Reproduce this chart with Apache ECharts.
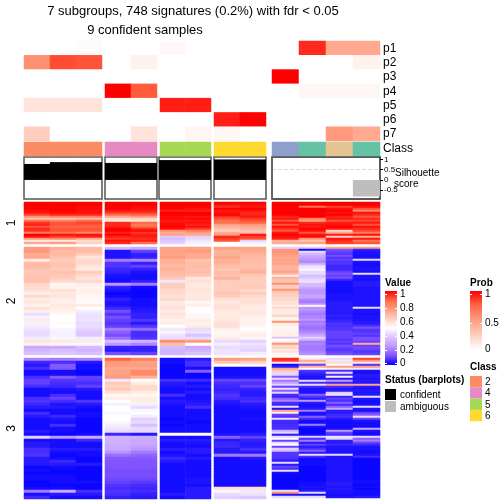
<!DOCTYPE html>
<html>
<head>
<meta charset="utf-8">
<style>html,body{margin:0;padding:0;background:#fff}#c{width:504px;height:504px}</style>
<script src="https://cdn.jsdelivr.net/npm/echarts@6/dist/echarts.min.js"></script>
</head>
<body>
<div id="c"></div>
<script>
const FONT = 'Liberation Sans';
const colNames = ['c0','c1','c2','c3','c4','c5','c6','c7','c8','c9','c10','c11','c12'];
const probNames = ['p1','p2','p3','p4','p5','p6','p7'];
const p1 = [0,0,.02,0,0,.04,0,0,0,0,.9,.44,.44];
const p2 = [.56,.82,.8,0,.07,0,0,0,0,0,0,0,.07];
const p3 = [0,0,0,0,0,0,0,0,0,1,0,0,0];
const p4 = [0,0,0,1,.78,0,0,0,0,0,.04,.04,.04];
const p5 = [.15,.15,.15,0,0,.93,.93,0,0,0,0,0,0];
const p6 = [0,0,0,0,0,0,0,.93,1,0,0,0,0];
const p7 = [.26,0,0,0,.15,0,.05,.04,0,0,0,.52,.44];
const classColors = ['#FC8D62','#FC8D62','#FC8D62','#E78AC3','#E78AC3','#A6D854','#A6D854','#FFD92F','#FFD92F','#8DA0CB','#66C2A5','#E5C494','#66C2A5'];
const silhouette = [.78,.87,.87,.83,.83,.97,.97,1,1,0,0,0,-.81];
const silStatus = [1,1,1,1,1,1,1,1,1,1,1,1,0];

const s1c0 = [1,1,1,1,.98,.97,.92,.78,.65,.86,.94,.96,.9,.95,.94,.82,1,.97,.76,.55,.72];
const s1c1 = [1,1,1,1,1,.99,.95,.82,.65,.82,.9,.9,.88,.9,.9,.85,.98,.93,.8,.55,.75];
const s1c2 = [1,1,.99,.99,.98,.98,.95,.82,.68,.86,.92,.9,.88,.9,.9,.8,.98,.96,.72,.6,.62];
const s1c3 = [1,1,1,1,.97,.93,.86,.72,.6,.55,.95,.95,.96,1,1,.96,1,.96,.93,.98,.95];
const s1c4 = [1,1,.99,.98,.97,.93,.88,.76,.62,.58,.88,.84,.86,.95,.99,.93,.97,.97,.94,.97,.86];
const s1c5 = [1,1,1,1,.96,1,1,.98,.99,.97,.98,.99,1,.98,.78,.72,.74,.38,.36,.38,.4];
const s1c6 = [1,1,1,.98,.96,1,1,.97,.99,.97,.98,.96,.98,.93,.82,.75,.72,.4,.42,.45,.47];
const s1c7 = [1,.98,.94,1,.97,.98,1,.94,.9,.86,.86,.74,.7,.66,.62,.72,.76,.96,.93,.9,.5];
const s1c8 = [1,.99,.97,1,.98,.95,.96,.97,.93,.9,.88,.76,.72,.7,.65,.66,.98,.93,.9,.4,.47];
const s1c9 = [1,1,1,1,1,1,1,.96,.97,.9,.98,.9,.98,.94,.9,.97,1,.98,.96,.7,.72];
const s1c10 = [1,1,.85,1,1,1,1,1,.8,.75,.95,.98,.97,1,.98,.9,.98,.99,.76,.65,.74];
const s1c11 = [1,1,.92,.98,1,.98,1,.96,.97,.9,.97,.98,1,.97,.62,.72,.97,.62,.98,.95,.92];
const s1c12 = [1,1,.98,.9,.8,.98,.95,.9,.95,.92,.97,.9,.98,.95,.92,.82,.98,.72,.97,.85,.9];

const s2c0 = [.75,.77,.72,.73,.55,.68,.68,.66,.64,.65,.65,.66,.61,.6,.58,.54,.6,.55,.56,.53,.58,.54,.43,.47,.55,.47,.46,.44,.42,.42,.46,.57,.54,.3,.33,.36];
const s2c1 = [.7,.68,.68,.66,.63,.65,.65,.63,.66,.64,.63,.6,.52,.53,.58,.56,.57,.55,.54,.56,.55,.54,.51,.5,.5,.51,.5,.48,.47,.47,.48,.56,.52,.3,.36,.38];
const s2c2 = [.68,.68,.63,.57,.6,.6,.57,.55,.63,.6,.57,.6,.55,.53,.54,.54,.52,.52,.51,.55,.5,.46,.44,.43,.44,.42,.43,.4,.38,.38,.46,.55,.48,.35,.33,.36];
const s2c3 = [.35,.03,.03,.03,.2,.08,.08,.06,.05,.03,.02,.02,.25,.05,.03,.01,.02,.05,.03,.03,.06,.12,.08,.12,.1,.08,.1,.2,.15,.12,.18,.35,.26,.05,.04,.12];
const s2c4 = [.3,.1,.05,.05,.22,.05,.1,.05,.03,.02,.02,.05,.2,.02,.01,.01,.01,.02,.02,.02,.03,.04,.05,.05,.08,.04,.08,.17,.07,.07,.08,.33,.22,.05,.05,.1];
const s2c5 = [.74,.74,.74,.76,.7,.7,.68,.7,.68,.67,.64,.45,.63,.63,.6,.6,.58,.6,.55,.56,.58,.55,.57,.56,.53,.55,.5,.45,.48,.44,.42,.78,.66,.35,.33,.33];
const s2c6 = [.74,.76,.72,.72,.65,.67,.67,.66,.67,.65,.56,.58,.56,.56,.57,.56,.56,.56,.52,.54,.5,.5,.52,.52,.55,.53,.55,.42,.44,.37,.42,.76,.5,.3,.33,.37];
const s2c7 = [.74,.7,.7,.74,.7,.7,.67,.65,.67,.66,.7,.63,.63,.63,.63,.65,.63,.58,.56,.58,.58,.56,.55,.56,.56,.58,.58,.54,.52,.53,.55,.42,.46,.42,.44,.44];
const s2c8 = [.74,.72,.7,.68,.68,.67,.66,.68,.7,.65,.63,.63,.63,.64,.6,.63,.6,.58,.58,.56,.55,.56,.56,.54,.52,.54,.52,.5,.53,.55,.52,.4,.44,.42,.4,.46];
const s2c9 = [.4,.76,.78,.76,.74,.72,.74,.72,.74,.7,.68,.7,.74,.68,.55,.7,.66,.65,.78,.63,.63,.77,.65,.63,.63,.6,.6,.58,.58,.55,.6,.56,.55,.56,.62,.54,.52,.78,.55,.54,.52,.53,.54,.54,.55,.38,.5,.55,.78,.6,.62,.55,.58,.52];
const s2c10 = [.4,.02,.42,.35,.3,.28,.25,.22,.3,.42,.45,.48,.42,.42,.35,.38,.42,.44,.35,.35,.3,.25,.25,.25,.3,.28,.22,.2,.24,.52,.25,.25,.22,.2,.22,.22,.25,.2,.22,.2,.18,.2,.22,.25,.3,.4,.32,.2,.22,.2,.2,.2,.22,.24];
const s2c11 = [.72,.12,.1,.08,.12,.08,.1,.08,.08,.06,.06,.06,.1,.12,.1,.12,.06,.02,.02,.02,.02,.02,.02,.03,.03,.03,.03,.04,.04,.04,.04,.04,.04,.04,.05,.04,.05,.06,.08,.07,.08,.08,.1,.1,.1,.1,.08,.1,.08,.12,.1,.08,.1,.12];
const s2c12 = [.75,.05,.03,.03,.02,.03,.42,.03,.02,.02,.03,.03,.02,.42,.03,.03,.02,.04,.04,.04,.03,.03,.03,.03,.03,.03,.03,.03,.03,.03,.42,.03,.03,.02,.03,.03,.03,.04,.04,.08,.12,.08,.08,.1,.08,.12,.12,.1,.72,.1,.12,.1,.08,.1];

const s3c0 = [.22,.06,.04,.07,.02,.02,.07,.1,.1,.07,.02,.02,.02,.07,.08,.06,.04,.02,.07,.04,.02,.02,.02,.02,.04,.02,.4,.02,.04,.04,.07,.07,.08,.04,.04,.04,.01,.02,.01,.02,.02,.01,.01,.02,.2,.02,.06];
const s3c1 = [.2,.07,.14,.14,.02,.02,.14,.08,.07,.06,.03,.02,.07,.1,.07,.03,.04,.02,.02,.06,.03,.02,.07,.02,.02,.01,.25,.02,.02,.02,.04,.02,.01,.02,.06,.04,.02,.01,.01,.02,.02,.02,.01,.02,.3,.04,.02];
const s3c2 = [.22,.04,.02,.02,.01,.01,.1,.09,.07,.1,.04,.02,.02,.02,.08,.04,.02,.01,.02,.02,.01,.01,.01,.01,.01,.02,.3,.06,.02,.02,.04,.02,.02,.01,.01,.04,.01,.01,.01,.01,.01,.02,.01,.01,.07,.04,.02];
const s3c3 = [.88,.76,.76,.72,.74,.74,.76,.45,.64,.62,.64,.58,.52,.55,.5,.47,.5,.5,.48,.5,.5,.52,.46,.44,.42,.06,.33,.32,.32,.3,.3,.24,.18,.14,.13,.13,.13,.12,.12,.12,.11,.1,.08,.07,.08,.07,.05];
const s3c4 = [.82,.74,.76,.72,.8,.8,.7,.5,.55,.6,.6,.55,.52,.55,.55,.47,.42,.48,.5,.46,.4,.42,.36,.42,.42,.04,.32,.3,.3,.28,.25,.2,.16,.14,.13,.13,.13,.12,.12,.12,.11,.09,.07,.06,.07,.05,.04];
const s3c5 = [.02,.02,.01,.01,.01,.01,.01,.07,.04,.03,.02,.02,.07,.02,.04,.03,.02,.02,.02,.02,.01,.02,.01,.02,.02,.5,.02,.04,.02,.02,.04,.02,.03,.06,.04,.02,.02,.02,.02,.02,.02,.02,.02,.02,.02,.04,.02];
const s3c6 = [.04,.07,.07,.02,.15,.01,.01,.06,.02,.04,.02,.04,.02,.02,.03,.04,.07,.02,.02,.02,.02,.01,.02,.02,.02,.5,.02,.04,.03,.02,.04,.04,.02,.04,.02,.02,.02,.02,.02,.02,.03,.03,.02,.04,.04,.04,.04];
const s3c7 = [.76,.64,.5,.02,.02,.02,.03,.1,.07,.06,.05,.06,.08,.07,.04,.03,.02,.02,.02,.02,.02,.02,.02,.02,.02,.03,.15,.04,.06,.06,.04,.04,.2,.02,.02,.02,.02,.02,.02,.02,.02,.02,.02,.58,.48,.42,.4];
const s3c8 = [.74,.62,.48,.02,.02,.02,.03,.1,.07,.1,.05,.04,.04,.06,.07,.04,.03,.02,.02,.02,.03,.02,.02,.02,.02,.04,.1,.05,.04,.04,.07,.04,.2,.04,.02,.02,.02,.02,.02,.02,.02,.02,.02,.58,.45,.44,.38];
const s3c9 = [.95,.93,.55,.02,.05,.72,.65,.42,.4,.15,.42,.2,.28,.4,.1,.42,.15,.4,.07,.06,.15,.22,.07,.06,.42,.03,.75,.55,.1,.08,.42,.07,.06,.07,.07,.07,.32,.4,.04,.42,.5,.1,.42,.5,.1,.4,.35,.08,.08,.08,.07,.04,.42,.04,.1,.07,.42,.02,.01,.01,.01,.01,.01,.01,.01,.01,.42,.78,.03,.42];
const s3c10 = [.55,.72,.6,.1,.7,.5,.08,.06,.04,.03,.03,.42,.07,.42,.07,.03,.03,.03,.15,.08,.04,.25,.04,.02,.03,.04,.2,.03,.03,.15,.07,.02,.02,.2,.03,.01,.01,.01,.02,.4,.07,.2,.04,.1,.04,.07,.15,.04,.42,.07,.02,.02,.02,.02,.01,.01,.01,.01,.01,.01,.01,.01,.02,.02,.03,.02,.04,.42,.02,.42];
const s3c11 = [.42,.45,.6,.5,.75,.55,.07,.42,.07,.55,.04,.25,.06,.74,.07,.04,.04,.4,.45,.06,.1,.07,.15,.07,.15,.3,.04,.04,.06,.07,.04,.02,.02,.02,.02,.02,.25,.1,.07,.45,.4,.04,.04,.06,.03,.03,.03,.03,.42,.03,.03,.03,.03,.03,.03,.03,.03,.03,.03,.03,.03,.03,.04,.04,.03,.04,.03,.03,.02,.03];
const s3c12 = [.92,.76,.55,.08,.76,.45,.03,.02,.04,.04,.03,.04,.03,.74,.04,.03,.04,.03,.04,.42,.03,.02,.02,.03,.42,.03,.02,.1,.15,.42,.1,.03,.02,.02,.02,.3,.03,.02,.02,.42,.15,.2,.1,.06,.03,.03,.02,.02,.03,.07,.01,.01,.01,.01,.01,.01,.01,.01,.01,.01,.01,.02,.02,.01,.02,.01,.02,.02,.02,.04];

const valueTicks = [1,.8,.6,.4,.2,0];
const probTicks = [1,.5,0];
const classLegend = ['2','4','5','6'];

const probRows = [p1,p2,p3,p4,p5,p6,p7];
const slice1 = [s1c0,s1c1,s1c2,s1c3,s1c4,s1c5,s1c6,s1c7,s1c8,s1c9,s1c10,s1c11,s1c12];
const slice2 = [s2c0,s2c1,s2c2,s2c3,s2c4,s2c5,s2c6,s2c7,s2c8,s2c9,s2c10,s2c11,s2c12];
const slice3 = [s3c0,s3c1,s3c2,s3c3,s3c4,s3c5,s3c6,s3c7,s3c8,s3c9,s3c10,s3c11,s3c12];

const panels = [
  {left:24,width:78,cols:[0,1,2]},
  {left:105,width:52,cols:[3,4]},
  {left:160,width:51,cols:[5,6],boxLeft:159,boxWidth:52},
  {left:214,width:52,cols:[7,8]},
  {left:272,width:108,cols:[9,10,11,12]}
];
const VALUE_COLORS = ['#0000ff','#7e51ff','#be96ff','#dcc5ff','#ffffff','#ffcfbf','#ff9e81','#ff6947','#ff0000'];
const PROB_COLORS = ['#ffffff','#ffcfbf','#ff9e81','#ff6947','#ff0000'];

const grids=[],xAxes=[],yAxes=[],series=[];
const valueIdx=[],probIdx=[];
function addGrid(p,top,height,gridExtra,yAxis){
  const i=grids.length;
  grids.push(Object.assign({left:p.left,top:top,width:p.width,height:height,show:false,containLabel:false,outerBoundsMode:'none'},gridExtra||{}));
  xAxes.push({gridIndex:i,type:'category',data:p.cols.map(c=>colNames[c]),show:false,boundaryGap:true});
  yAxes.push(Object.assign({gridIndex:i},yAxis));
  return i;
}
const hiddenCat=(names)=>({type:'category',data:names,inverse:true,show:false});
const heat=(g,data)=>({type:'heatmap',xAxisIndex:g,yAxisIndex:g,data:data,silent:true,animation:false,progressive:0,
  emphasis:{disabled:true},itemStyle:{borderWidth:0}});

panels.forEach((p,pi)=>{
  const last=pi===panels.length-1;
  let g=addGrid(p,41,100,null,hiddenCat(probNames));
  const d=[];
  probRows.forEach((row,r)=>p.cols.forEach((c,x)=>d.push([x,r,row[c]])));
  probIdx.push(series.length); series.push(heat(g,d));
  g=addGrid(p,142,14,null,hiddenCat(['Class']));
  series.push(heat(g,p.cols.map((c,x)=>({value:[x,0,1],itemStyle:{color:classColors[c]}}))));
  const silAxis={type:'value',min:-.93,max:1.12,position:'right',splitLine:{show:false},
    axisLine:{show:false},axisTick:{show:last,length:3,inside:false,lineStyle:{color:'#000'},customValues:[1,.5,0,-.5]},
    axisLabel:{show:last,customValues:[1,.5,0,-.5],fontSize:8,margin:4,fontFamily:FONT,color:'#000',formatter:v=>String(v)}};
  const box={show:true,backgroundColor:'#fff',borderColor:last?'#222':'#555',borderWidth:1.5};
  if(p.boxLeft){box.left=p.boxLeft;box.width=p.boxWidth;}
  g=addGrid(p,157,42,box,silAxis);
  series.push({type:'bar',xAxisIndex:g,yAxisIndex:g,barWidth:'101%',barGap:'-100%',animation:false,silent:true,
    data:p.cols.map(c=>({value:silhouette[c],itemStyle:{color:silStatus[c]?'#000':'#BEBEBE'}})),
    markLine:last?{silent:true,symbol:'none',animation:false,label:{show:false},
      lineStyle:{type:'dashed',color:'#dcdcdc',width:1},data:[{yAxis:.5}]}:undefined});
  [[slice1,202,42,'1'],[slice2,247,108,'2'],[slice3,358,last?140:141,'3']].forEach(([cols,top,h,name])=>{
    const n=cols[p.cols[0]].length, names=Array.from({length:n},(_,i)=>'r'+i);
    const yA=hiddenCat(names);
    if(pi===0){
      Object.assign(yA,{show:true,position:'left',axisLine:{show:false},axisTick:{show:false},axisLabel:{show:false},
        name:name,nameLocation:'middle',nameGap:6,nameRotate:90,nameMoveOverlap:false,nameTextStyle:{fontSize:12,fontFamily:FONT,color:'#000'}});
    }
    const sg=addGrid(p,top,h,null,yA);
    const dd=[];
    p.cols.forEach((c,x)=>cols[c].forEach((v,r)=>dd.push([x,r,v])));
    valueIdx.push(series.length); series.push(heat(sg,dd));
  });
});

const g=[];
const txt=(x,y,s,size,bold,align)=>g.push({type:'text',x:x,y:y,silent:true,z:10,style:{text:s,fontFamily:FONT,fontSize:size,fontWeight:bold?'bold':'normal',fill:'#000',textAlign:align||'left',textVerticalAlign:'middle'}});
const rect=(x,y,w,h,fill)=>g.push({type:'rect',silent:true,z:9,shape:{x:x,y:y,width:w,height:h},style:{fill:fill}});
function bar(x,y,w,h,colors,ticks,ys){
  rect(x,y,w,h,{type:'linear',x:0,y:0,x2:0,y2:1,colorStops:colors.slice().reverse().map((c,i)=>({offset:i/(colors.length-1),color:c}))});
  ticks.forEach((t,i)=>{
    txt(x+w+3,ys[i],String(t),10);
    rect(x,ys[i],2,1,'#fff'); rect(x+w-2,ys[i],2,1,'#fff');
  });
}
probNames.forEach((s,i)=>txt(383,[49,63,77,92,106,120,134][i],s,12));
txt(383,149,'Class',12);
txt(385,283,'Value',10,true);
bar(385,291,12,74,VALUE_COLORS,valueTicks,[294,308,322,336,350,363]);
txt(470,283,'Prob',10,true);
bar(470,291,12,59,PROB_COLORS,probTicks,[294,323,349]);
txt(470,367,'Class',10,true);
classLegend.forEach((s,i)=>{
  const col=[classColors[0],classColors[3],classColors[5],classColors[7]][i];
  rect(470,376+i*11.3,12,11.3,col);
  txt(485,382+i*11.4,s,10);
});
txt(385,380,'Status (barplots)',10,true);
rect(385,389,11,11,'#000'); txt(400,395,'confident',10);
rect(385,401,11,11,'#BEBEBE'); txt(400,407,'ambiguous',10);
txt(395,173,'Silhouette',10);
txt(394,184,'score',10);
rect(271,157,2,42,'#666');

const chart=echarts.init(document.getElementById('c'),null,{renderer:'canvas',width:504,height:504});
chart.setOption({
  animation:false,
  backgroundColor:'#fff',
  title:[
    {text:'7 subgroups, 748 signatures (0.2%) with fdr < 0.05',left:188,top:6,textAlign:'center',textVerticalAlign:'middle',textStyle:{fontFamily:FONT,fontSize:13,fontWeight:'normal',color:'#000'}},
    {text:'9 confident samples',left:140,top:25,textAlign:'center',textVerticalAlign:'middle',textStyle:{fontFamily:FONT,fontSize:13,fontWeight:'normal',color:'#000'}}
  ],
  tooltip:{show:false},
  grid:grids,xAxis:xAxes,yAxis:yAxes,series:series,
  visualMap:[
    {type:'continuous',show:false,min:0,max:1,dimension:2,seriesIndex:valueIdx,inRange:{color:VALUE_COLORS}},
    {type:'continuous',show:false,min:0,max:1,dimension:2,seriesIndex:probIdx,inRange:{color:PROB_COLORS}}
  ],
  graphic:{elements:g}
});
</script>
</body>
</html>
